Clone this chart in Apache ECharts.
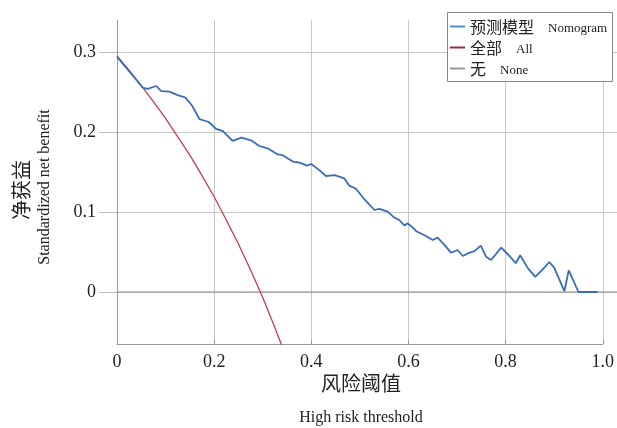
<!DOCTYPE html>
<html>
<head>
<meta charset="utf-8">
<script src="https://cdn.jsdelivr.net/npm/echarts@6/dist/echarts.min.js"></script>
<style>
html, body { margin: 0; padding: 0; background: #fff; }
#chart { width: 617px; height: 428px; }
</style>
</head>
<body>
<div id="chart"></div>
<script>
// Decision curve: net benefit of the nomogram versus treat-all / treat-none
const nomogramThreshold = [0, 0.025, 0.053, 0.063, 0.081, 0.091, 0.108, 0.125, 0.141, 0.155,
  0.170, 0.189, 0.204, 0.218, 0.238, 0.256, 0.276, 0.293, 0.310, 0.331,
  0.341, 0.362, 0.376, 0.391, 0.400, 0.417, 0.430, 0.448, 0.468, 0.478,
  0.492, 0.509, 0.530, 0.540, 0.557, 0.571, 0.581, 0.592, 0.598, 0.609,
  0.616, 0.633, 0.650, 0.660, 0.674, 0.688, 0.701, 0.712, 0.725, 0.736,
  0.749, 0.760, 0.770, 0.791, 0.808, 0.821, 0.830, 0.845, 0.861, 0.876,
  0.890, 0.900, 0.921, 0.930, 0.950, 0.989];
const nomogramBenefit = [0.294, 0.276, 0.2555, 0.254, 0.2575, 0.251, 0.2505, 0.246, 0.243, 0.2325,
  0.216, 0.2125, 0.204, 0.201, 0.189, 0.193, 0.1896, 0.1825, 0.1796, 0.172,
  0.171, 0.163, 0.1617, 0.158, 0.160, 0.152, 0.145, 0.146, 0.142, 0.133,
  0.129, 0.116, 0.1025, 0.104, 0.1005, 0.093, 0.090, 0.083, 0.086, 0.0805,
  0.076, 0.071, 0.065, 0.068, 0.059, 0.049, 0.0525, 0.045, 0.049, 0.051,
  0.058, 0.044, 0.040, 0.0555, 0.045, 0.036, 0.046, 0.0305, 0.019, 0.028,
  0.0375, 0.0305, 0.001, 0.027, 0, 0];

const allThreshold = [0, 0.025, 0.05, 0.075, 0.1, 0.125, 0.15, 0.175, 0.2, 0.225,
  0.25, 0.275, 0.3, 0.32, 0.34];
const allBenefit = [0.295, 0.277, 0.258, 0.238, 0.217, 0.194, 0.171, 0.1455, 0.119, 0.090,
  0.060, 0.0276, -0.007, -0.037, -0.068];

const noneThreshold = [0, 1.03];
const noneBenefit = [0, 0];

const xTicks = [0, 0.2, 0.4, 0.6, 0.8, 1.0];
const yTicks = [0, 0.1, 0.2, 0.3];

const seriesNames = ['预测模型', '全部', '无'];
const seriesNamesEn = ['Nomogram', 'All', 'None'];
const seriesColors = ['#3a6db5', '#c83c4c', '#8a8a8a'];
const legendColors = ['#4a8fc9', '#a8283a', '#999999'];

const zip = (xs, ys) => xs.map((x, i) => [x, ys[i]]);

const serif = 'Liberation Serif, Times New Roman, serif';
const cjk = 'Noto Sans CJK SC, sans-serif';
const yMin = -0.065, yMax = 0.34;
const fmt = v => (v === 0 ? '0' : v.toFixed(1));

const chart = echarts.init(document.getElementById('chart'), null, { renderer: 'canvas' });

chart.setOption({
  animation: false,
  backgroundColor: '#fff',
  grid: [
    { left: 117, top: 20, right: 0, bottom: 84 },
    { left: 117, top: 20, width: 486, bottom: 84 }
  ],
  xAxis: [
    { gridIndex: 0, type: 'value', min: 0, max: 500 / 486, show: false },
    {
      gridIndex: 1, type: 'value', min: 0, max: 1, interval: 0.2,
      axisLine: { show: true, onZero: false, lineStyle: { color: '#999', width: 1 } },
      axisTick: { show: true, inside: true, length: 4, lineStyle: { color: '#999' } },
      axisLabel: { margin: 9, color: '#222', fontFamily: serif, fontSize: 18, formatter: fmt },
      splitLine: { show: true, lineStyle: { color: '#c8c8c8', width: 1 } }
    }
  ],
  yAxis: [
    {
      gridIndex: 0, type: 'value', min: yMin, max: yMax,
      axisLine: { show: false },
      axisTick: { show: true, length: 18, customValues: yTicks, lineStyle: { color: '#bbb' } },
      axisLabel: { show: true, customValues: yTicks, margin: 21, color: '#222', fontFamily: serif, fontSize: 18, formatter: fmt },
      splitLine: { show: true, lineStyle: { color: '#c8c8c8', width: 1 } }
    },
    {
      gridIndex: 1, type: 'value', min: yMin, max: yMax,
      axisLine: { show: true, onZero: false, lineStyle: { color: '#999', width: 1 } },
      axisTick: { show: false },
      axisLabel: { show: false },
      splitLine: { show: false }
    }
  ],
  legend: {
    orient: 'vertical',
    left: 450, top: 16,
    padding: 0, itemGap: 0,
    itemWidth: 15, itemHeight: 2,
    icon: 'rect',
    z: 20,
    data: seriesNames.map((n, i) => ({ name: n, itemStyle: { color: legendColors[i] } })),
    formatter: name => '{cn|' + name + '}{en|' + seriesNamesEn[seriesNames.indexOf(name)] + '}',
    textStyle: {
      lineHeight: 21,
      height: 21,
      rich: {
        cn: { fontFamily: cjk, fontSize: 16, lineHeight: 21, height: 21, verticalAlign: 'middle', color: '#222' },
        en: { fontFamily: serif, fontSize: 13, lineHeight: 16, height: 16, verticalAlign: 'middle', color: '#222', padding: [5, 0, 0, 14] }
      }
    }
  },
  graphic: [
    { type: 'rect', z: 10, shape: { x: 447.5, y: 12.5, width: 165, height: 69 },
      style: { fill: '#fff', stroke: '#888', lineWidth: 1 } },
    { type: 'text', x: 21, y: 190, rotation: Math.PI / 2, z: 10,
      style: { text: '净获益', font: '20px ' + cjk, fill: '#222', align: 'center', verticalAlign: 'middle' } },
    { type: 'text', x: 45, y: 187, rotation: Math.PI / 2, z: 10,
      style: { text: 'Standardized net benefit', font: '16px ' + serif, fill: '#222', align: 'center', verticalAlign: 'middle' } },
    { type: 'text', x: 361, y: 383, z: 10,
      style: { text: '风险阈值', font: '20px ' + cjk, fill: '#222', align: 'center', verticalAlign: 'middle' } },
    { type: 'text', x: 361, y: 418, z: 10,
      style: { text: 'High risk threshold', font: '16px ' + serif, fill: '#222', align: 'center', verticalAlign: 'middle' } }
  ],
  series: [
    {
      name: seriesNames[0], type: 'line', xAxisIndex: 1, yAxisIndex: 1,
      data: zip(nomogramThreshold, nomogramBenefit),
      symbol: 'none', z: 4,
      lineStyle: { color: seriesColors[0], width: 1.8 }, itemStyle: { color: seriesColors[0] }
    },
    {
      name: seriesNames[1], type: 'line', xAxisIndex: 1, yAxisIndex: 1,
      data: zip(allThreshold, allBenefit),
      symbol: 'none', smooth: false, z: 3,
      lineStyle: { color: seriesColors[1], width: 1.3 }, itemStyle: { color: seriesColors[1] }
    },
    {
      name: seriesNames[2], type: 'line', xAxisIndex: 0, yAxisIndex: 0,
      data: zip(noneThreshold, noneBenefit),
      symbol: 'none', z: 2,
      lineStyle: { color: seriesColors[2], width: 1.2 }, itemStyle: { color: seriesColors[2] }
    }
  ]
});
</script>
</body>
</html>
